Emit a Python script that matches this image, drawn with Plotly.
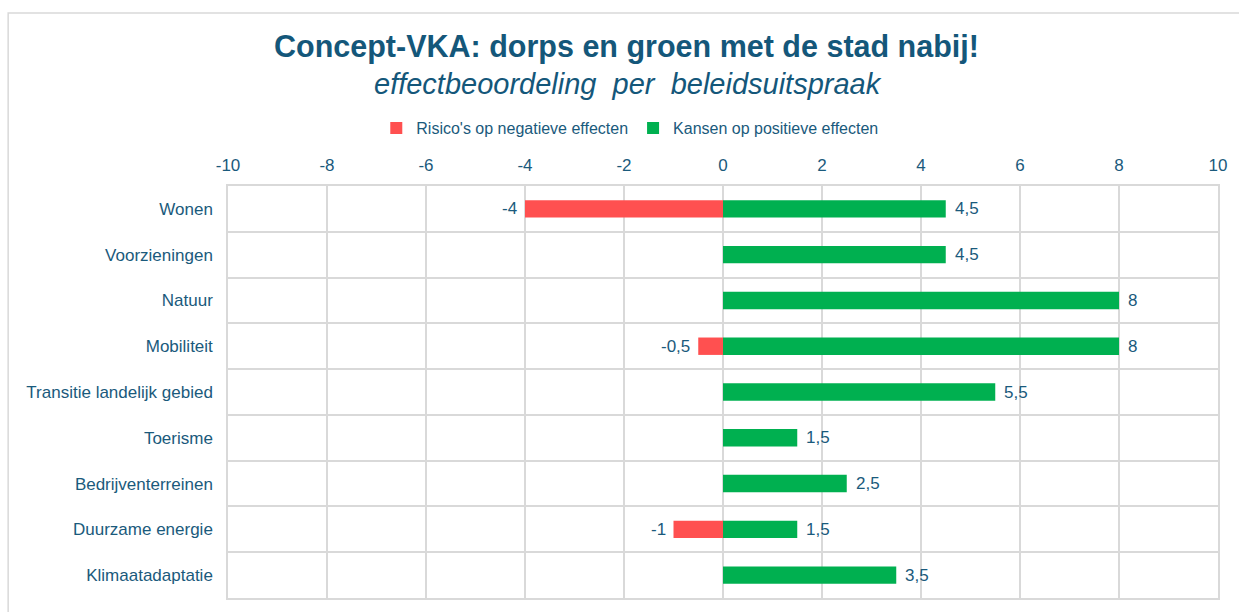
import plotly.graph_objects as go

# Beleidsuitspraken en hun effectscores
categories = [
    "Wonen",
    "Voorzieningen",
    "Natuur",
    "Mobiliteit",
    "Transitie landelijk gebied",
    "Toerisme",
    "Bedrijventerreinen",
    "Duurzame energie",
    "Klimaatadaptatie",
]
risico = [-4, 0, 0, -0.5, 0, 0, 0, -1, 0]
kansen = [4.5, 4.5, 8, 8, 5.5, 1.5, 2.5, 1.5, 3.5]
x_ticks = [-10, -8, -6, -4, -2, 0, 2, 4, 6, 8, 10]

TEXT = "#1a5a7c"
TITLE = "#14577a"
GRID = "#d9d9d9"
RED = "#ff5050"
GREEN = "#00b050"
FONT = "Liberation Sans, Arial, sans-serif"


def label(v):
    # Dutch decimal notation
    return f"{v:g}".replace(".", ",")


# plot area in pixels (figure is 1239 x 612)
W, H = 1239, 612
L, R, T, B = 228, 18, 186, 13
pw, ph = W - L - R, H - T - B


def px(xp):
    return (xp - L) / pw


def py(yp):
    return (H - B - yp) / ph


fig = go.Figure()
fig.add_trace(go.Bar(
    name="Risico's op negatieve effecten",
    y=categories, x=risico, orientation="h",
    marker=dict(color=RED, line=dict(width=0)),
    width=0.38, hoverinfo="skip",
))
fig.add_trace(go.Bar(
    name="Kansen op positieve effecten",
    y=categories, x=kansen, orientation="h",
    marker=dict(color=GREEN, line=dict(width=0)),
    width=0.38, hoverinfo="skip",
))

# data labels just beyond the bar ends
value_labels = []
for cat, v in zip(categories, risico):
    if v != 0:
        value_labels.append(dict(
            x=v, y=cat, xref="x", yref="y", text=label(v),
            xanchor="right", yanchor="middle", xshift=-6, showarrow=False,
            font=dict(size=17, color=TEXT, family=FONT),
        ))
for cat, v in zip(categories, kansen):
    if v != 0:
        value_labels.append(dict(
            x=v, y=cat, xref="x", yref="y", text=label(v),
            xanchor="left", yanchor="middle", xshift=7, showarrow=False,
            font=dict(size=17, color=TEXT, family=FONT),
        ))

fig.update_layout(
    width=W, height=H,
    margin=dict(l=L, r=R, t=T, b=B),
    paper_bgcolor="white", plot_bgcolor="white",
    barmode="overlay",
    font=dict(family=FONT, color=TEXT, size=16),
    showlegend=True,
    legend=dict(
        orientation="h", x=px(631), y=py(128),
        xanchor="center", yanchor="middle",
        font=dict(size=16, color=TEXT, family=FONT),
        itemwidth=30, traceorder="normal",
        bgcolor="rgba(0,0,0,0)",
    ),
    xaxis=dict(
        side="top", range=[-10, 10], tickvals=x_ticks,
        ticktext=[str(t) for t in x_ticks],
        showgrid=True, gridcolor=GRID, gridwidth=1.5,
        zeroline=False, showline=True, linecolor=GRID, linewidth=1.5,
        mirror=True, ticks="", ticklabelstandoff=6,
        tickfont=dict(size=17, color=TEXT, family=FONT),
    ),
    yaxis=dict(
        type="category", categoryorder="array", categoryarray=categories,
        autorange="reversed", tickson="boundaries",
        showgrid=True, gridcolor=GRID, gridwidth=1.5,
        showline=True, linecolor=GRID, linewidth=1.5, mirror=True,
        ticks="", ticklabelstandoff=10,
        tickfont=dict(size=17, color=TEXT, family=FONT),
    ),
    annotations=[
        dict(
            text="<b>Concept-VKA: dorps en groen met de stad nabij!</b>",
            x=px(628), y=py(46), xref="paper", yref="paper",
            xanchor="center", yanchor="middle", showarrow=False,
            font=dict(size=30.5, color=TITLE, family=FONT),
        ),
        dict(
            text="<i>effectbeoordeling  per  beleidsuitspraak</i>",
            x=px(629), y=py(84), xref="paper", yref="paper",
            xanchor="center", yanchor="middle", showarrow=False,
            font=dict(size=29, color=TITLE, family=FONT),
        ),
    ] + value_labels,
    shapes=[
        dict(
            type="rect", xref="paper", yref="paper",
            x0=px(7.5), x1=px(1245), y0=py(640), y1=py(12.5),
            line=dict(color=GRID, width=1.5), fillcolor="rgba(0,0,0,0)",
            layer="below",
        ),
    ],
)

fig.write_html("out.html")
